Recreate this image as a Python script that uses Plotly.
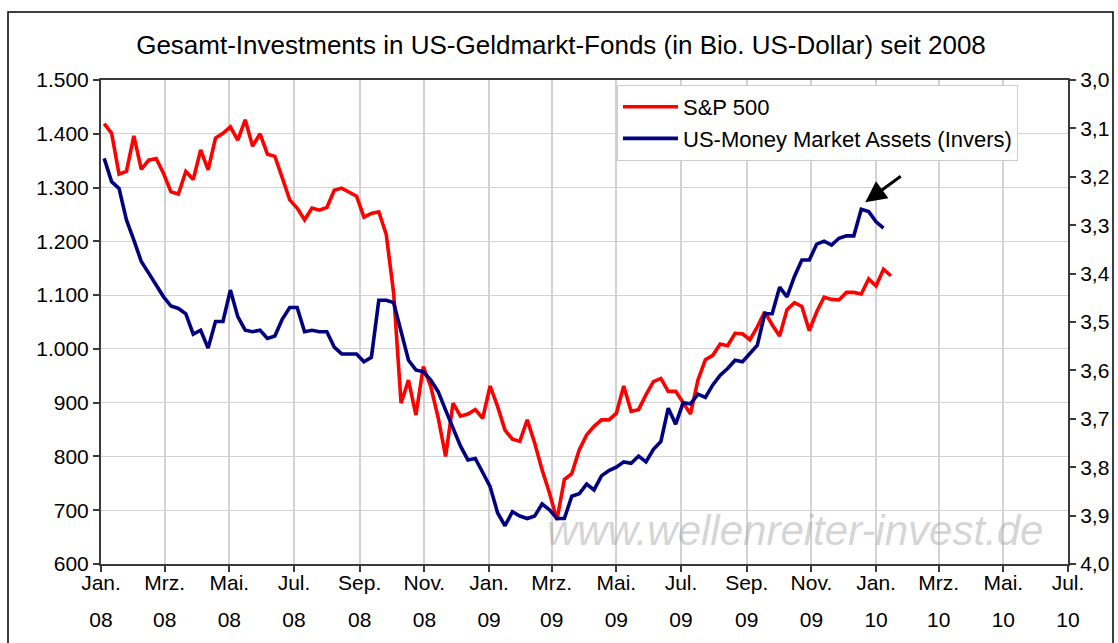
import pandas as pd
import plotly.graph_objects as go

# ---------------- data ----------------
start_date = "2008-01-04"          # first weekly observation (Friday)
sp500 = [
    1419, 1401, 1325, 1330, 1396, 1334, 1351, 1354, 1326, 1292,
    1288, 1330, 1315, 1370, 1333, 1392, 1401, 1413, 1388, 1426,
    1377, 1400, 1362, 1358, 1318, 1277, 1262, 1240, 1262, 1258,
    1263, 1295, 1299, 1291, 1284, 1245, 1252, 1255, 1213, 1104,
    899, 942, 877, 967, 930, 872, 800, 899, 875, 879,
    887, 871, 931, 893, 849, 832, 828, 868, 825, 775,
    732, 682, 757, 768, 812, 840, 856, 868, 868, 880,
    931, 884, 887, 915, 939, 945, 921, 921, 900, 879,
    942, 980, 988, 1009, 1006, 1029, 1028, 1017, 1041, 1069,
    1045, 1024, 1073, 1086, 1079, 1034, 1069, 1096, 1092, 1091,
    1105, 1105, 1102, 1130, 1117, 1148, 1136,
]
money_market = [
    3.162, 3.210, 3.224, 3.289, 3.331, 3.375, 3.399, 3.424, 3.448, 3.467,
    3.472, 3.483, 3.525, 3.517, 3.554, 3.499, 3.499, 3.434, 3.489, 3.517,
    3.520, 3.517, 3.534, 3.529, 3.494, 3.470, 3.470, 3.520, 3.517, 3.520,
    3.520, 3.552, 3.566, 3.566, 3.566, 3.582, 3.573, 3.455, 3.455, 3.460,
    3.517, 3.579, 3.599, 3.603, 3.620, 3.644, 3.682, 3.718, 3.756, 3.785,
    3.782, 3.811, 3.840, 3.894, 3.921, 3.892, 3.901, 3.906, 3.901, 3.876,
    3.888, 3.906, 3.906, 3.860, 3.855, 3.835, 3.847, 3.818, 3.807, 3.800,
    3.789, 3.792, 3.777, 3.789, 3.763, 3.747, 3.678, 3.711, 3.667, 3.669,
    3.649, 3.656, 3.630, 3.610, 3.596, 3.579, 3.582, 3.565, 3.548, 3.483,
    3.483, 3.428, 3.448, 3.406, 3.372, 3.372, 3.339, 3.333, 3.341, 3.327,
    3.322, 3.322, 3.267, 3.272, 3.293, 3.306,
]
tick_dates = ["2008-01-01", "2008-03-01", "2008-05-01", "2008-07-01", "2008-09-01",
              "2008-11-01", "2009-01-01", "2009-03-01", "2009-05-01", "2009-07-01",
              "2009-09-01", "2009-11-01", "2010-01-01", "2010-03-01", "2010-05-01",
              "2010-07-01"]
month_labels = ["Jan.", "Mrz.", "Mai.", "Jul.", "Sep.", "Nov."] * 2 + ["Jan.", "Mrz.", "Mai.", "Jul."]
year_labels = ["08"] * 6 + ["09"] * 6 + ["10"] * 4
left_ticks = [600, 700, 800, 900, 1000, 1100, 1200, 1300, 1400, 1500]
right_ticks = [3.0, 3.1, 3.2, 3.3, 3.4, 3.5, 3.6, 3.7, 3.8, 3.9, 4.0]

dates_sp = pd.date_range(start_date, periods=len(sp500), freq="7D")
dates_mm = pd.date_range(start_date, periods=len(money_market), freq="7D")
peak_idx = 102   # the late-December 2009 peak the arrow points at

# ---------------- layout constants ----------------
W, H = 1118, 643
L, R, T, B = 101, 50, 80, 79
pw, ph = W - L - R, H - T - B
FONT = "Liberation Sans, Arial, sans-serif"
AXC = "#3a3a3a"
GRID = "#d2d2d2"

def px_x(p):
    return (p - L) / pw

def px_y(p):
    return (H - B - p) / ph

fig = go.Figure()
fig.add_trace(go.Scatter(x=dates_sp, y=sp500, name="S&P 500", mode="lines",
                         line=dict(color="#ff0000", width=3.6)))
fig.add_trace(go.Scatter(x=dates_mm, y=money_market, name="US-Money Market Assets (Invers)",
                         mode="lines", line=dict(color="#000080", width=3.6),
                         yaxis="y2"))
# invisible trace to activate the second x axis (year labels)
fig.add_trace(go.Scatter(x=[tick_dates[0]], y=[None], xaxis="x2", showlegend=False,
                         hoverinfo="skip"))

fig.update_layout(
    width=W, height=H,
    margin=dict(l=L, r=R, t=T, b=B, autoexpand=False),
    paper_bgcolor="white", plot_bgcolor="white",
    separators=",.",
    font=dict(family=FONT, size=21, color="black"),
    title=dict(text="Gesamt-Investments in US-Geldmarkt-Fonds (in Bio. US-Dollar) seit 2008",
               x=px_x(561), xanchor="center", y=1 - 45 / H, yanchor="middle",
               xref="paper", font=dict(size=26, family=FONT)),
    xaxis=dict(type="date", range=[tick_dates[0], tick_dates[-1]],
               tickvals=tick_dates, ticktext=month_labels,
               showgrid=True, gridcolor=GRID, gridwidth=1.5,
               showline=True, linecolor=AXC, linewidth=2, mirror=True,
               ticks="outside", ticklen=6, tickcolor=AXC, tickwidth=1.5,
               tickangle=0, zeroline=False, ticklabelstandoff=-7),
    xaxis2=dict(type="date", overlaying="x", matches="x", side="bottom", anchor="y",
                range=[tick_dates[0], tick_dates[-1]],
                tickvals=tick_dates, ticktext=year_labels,
                showgrid=False, showline=False, ticks="", tickangle=0,
                ticklabelstandoff=41),
    yaxis=dict(range=[600, 1500], tickvals=left_ticks, tickformat=",d",
               showgrid=True, gridcolor=GRID, gridwidth=1.2,
               showline=True, linecolor=AXC, linewidth=2,
               ticks="outside", ticklen=6, tickcolor=AXC, tickwidth=1.5,
               zeroline=False),
    yaxis2=dict(range=[4.0, 3.0], overlaying="y", side="right", anchor="x",
                tickvals=right_ticks, tickformat=".1f",
                showgrid=False, showline=True, linecolor=AXC, linewidth=2,
                ticks="outside", ticklen=6, tickcolor=AXC, tickwidth=1.5,
                zeroline=False),
    legend=dict(x=px_x(617), y=px_y(85), xanchor="left", yanchor="top",
                bgcolor="white", bordercolor="#cccccc", borderwidth=1,
                font=dict(size=22, family=FONT), traceorder="normal",
                itemwidth=55),
    showlegend=True,
)

# outer chart border
fig.add_shape(type="rect", xref="paper", yref="paper",
              x0=px_x(8), x1=px_x(1113), y0=px_y(660), y1=px_y(12),
              line=dict(color="black", width=1.5), fillcolor="rgba(0,0,0,0)",
              layer="below")

# watermark
fig.add_annotation(text="www.wellenreiter-invest.de", xref="paper", yref="paper",
                   x=px_x(795), y=px_y(530), xanchor="center", yanchor="middle",
                   showarrow=False,
                   font=dict(size=42, family=FONT, color="rgba(160,160,160,0.45)",
                             style="italic"))

# arrow pointing at the latest peak of the money-market line
fig.add_annotation(x=dates_mm[peak_idx], y=money_market[peak_idx], xref="x", yref="y2",
                   text="", showarrow=True, arrowhead=2, arrowsize=1.4, arrowwidth=3,
                   arrowcolor="black", ax=37, ay=-27, xshift=4, yshift=7, standoff=0)

fig.write_html("out.html", config={"displayModeBar": False},
               post_script="document.body.style.margin='0';document.body.style.overflow='hidden';")
